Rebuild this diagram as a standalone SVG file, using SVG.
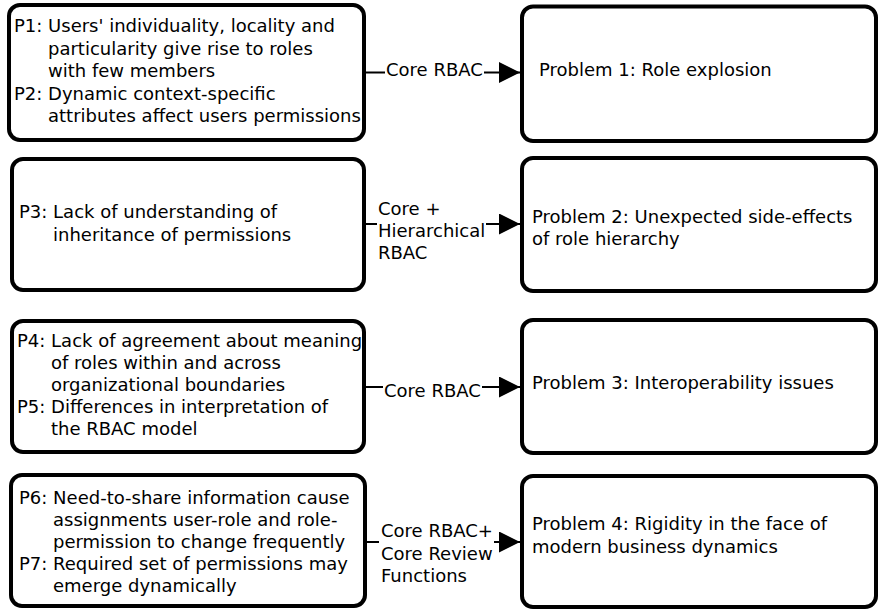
<svg xmlns="http://www.w3.org/2000/svg" width="879" height="610" viewBox="0 0 879 610">
<style>
.box{fill:#fff;stroke:#000;stroke-width:4}
.t{font-family:"DejaVu Sans",sans-serif;font-size:18px;fill:#000}
.c{fill:none;stroke:#000;stroke-width:2}
</style>
<defs>
<marker id="arr" viewBox="0 0 21 21" refX="21" refY="10.5" markerWidth="21" markerHeight="21" markerUnits="userSpaceOnUse" orient="auto">
<path d="M0,0 L21,10.5 L0,21 z" fill="#000"/>
</marker>
</defs>
<rect width="879" height="610" fill="#fff"/>
<g id="p12">
<rect class="box" x="9" y="5" width="355" height="135" rx="11"/>
<text class="t" x="14" y="32">P1: Users' individuality, locality and</text>
<text class="t" x="48" y="54.5">particularity give rise to roles</text>
<text class="t" x="48" y="77">with few members</text>
<text class="t" x="14" y="99.5">P2: Dynamic context-specific</text>
<text class="t" x="48" y="122">attributes affect users permissions</text>
</g>
<g id="p3">
<rect class="box" x="12" y="159" width="352" height="131" rx="11"/>
<text class="t" x="19" y="218">P3: Lack of understanding of</text>
<text class="t" x="53" y="241">inheritance of permissions</text>
</g>
<g id="p45">
<rect class="box" x="12" y="321" width="352" height="131" rx="11"/>
<text class="t" x="17" y="347">P4: Lack of agreement about meaning</text>
<text class="t" x="51" y="369">of roles within and across</text>
<text class="t" x="51" y="391">organizational boundaries</text>
<text class="t" x="17" y="413">P5: Differences in interpretation of</text>
<text class="t" x="51" y="435">the RBAC model</text>
</g>
<g id="p67">
<rect class="box" x="11" y="475" width="354" height="131" rx="11"/>
<text class="t" x="19" y="504">P6: Need-to-share information cause</text>
<text class="t" x="53" y="526">assignments user-role and role-</text>
<text class="t" x="53" y="548">permission to change frequently</text>
<text class="t" x="19" y="570">P7: Required set of permissions may</text>
<text class="t" x="53" y="592">emerge dynamically</text>
</g>
<g id="prob1">
<rect class="box" x="522" y="6.5" width="354" height="134.5" rx="11"/>
<text class="t" x="539" y="76">Problem 1: Role explosion</text>
</g>
<g id="prob2">
<rect class="box" x="522" y="158" width="354" height="133" rx="11"/>
<text class="t" x="532" y="223">Problem 2: Unexpected side-effects</text>
<text class="t" x="532" y="245">of role hierarchy</text>
</g>
<g id="prob3">
<rect class="box" x="522" y="320" width="354" height="133" rx="11"/>
<text class="t" x="532" y="389">Problem 3: Interoperability issues</text>
</g>
<g id="prob4">
<rect class="box" x="522" y="476" width="354" height="131" rx="11"/>
<text class="t" x="532" y="530">Problem 4: Rigidity in the face of</text>
<text class="t" x="532" y="553">modern business dynamics</text>
</g>
<g id="connectors">
<path class="c" d="M366,72.5 H385"/>
<path class="c" d="M484,72.5 H520" marker-end="url(#arr)"/>
<text class="t" x="386" y="76">Core RBAC</text>
<path class="c" d="M366,224 H377"/>
<path class="c" d="M486,224 H520" marker-end="url(#arr)"/>
<text class="t" x="378" y="215">Core +</text>
<text class="t" x="378" y="237">Hierarchical</text>
<text class="t" x="378" y="259">RBAC</text>
<path class="c" d="M366,387 H383"/>
<path class="c" d="M482,387 H520" marker-end="url(#arr)"/>
<text class="t" x="384" y="397">Core RBAC</text>
<path class="c" d="M367,542 H379"/>
<path class="c" d="M494,542 H520" marker-end="url(#arr)"/>
<text class="t" x="381" y="537">Core RBAC+</text>
<text class="t" x="381" y="560">Core Review</text>
<text class="t" x="381" y="582">Functions</text>
</g>
</svg>
